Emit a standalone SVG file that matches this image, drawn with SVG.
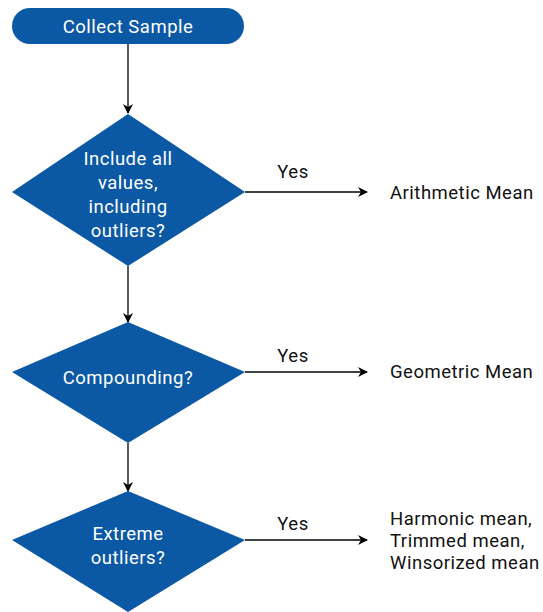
<svg xmlns="http://www.w3.org/2000/svg" width="543" height="612" viewBox="0 0 543 612">
<style>
.node{fill:#0b58a4;}
.nt{fill:#ffffff;font-family:Roboto,"Liberation Sans",sans-serif;font-size:18.5px;letter-spacing:0.5px;text-anchor:middle;}
.lt{fill:#111111;font-family:Roboto,"Liberation Sans",sans-serif;font-size:18.5px;letter-spacing:0.5px;}
.edge{stroke:#000000;stroke-width:1.3;fill:none;marker-end:url(#ah);}
</style>
<defs>
<marker id="ah" viewBox="0 0 10 10" refX="9" refY="5" markerWidth="10" markerHeight="10" markerUnits="userSpaceOnUse" orient="auto">
<path d="M0,0 L10,5 L0,10 L3,5 Z" fill="#000000"/>
</marker>
</defs>
<rect width="543" height="612" fill="#ffffff"/>
<g id="edges">
<line class="edge" x1="128" y1="44" x2="128" y2="113"/>
<line class="edge" x1="128" y1="266" x2="128" y2="322"/>
<line class="edge" x1="128" y1="443" x2="128" y2="491"/>
<line class="edge" x1="245" y1="192" x2="367" y2="192"/>
<line class="edge" x1="245" y1="372" x2="367" y2="372"/>
<line class="edge" x1="245" y1="540" x2="367" y2="540"/>
<text class="lt" x="293" y="178" text-anchor="middle">Yes</text>
<text class="lt" x="293" y="362" text-anchor="middle">Yes</text>
<text class="lt" x="293" y="530" text-anchor="middle">Yes</text>
</g>
<g id="start">
<rect class="node" x="12" y="8" width="232" height="36" rx="18"/>
<text class="nt" x="128" y="33">Collect Sample</text>
</g>
<g id="q1">
<polygon class="node" points="128,114 245,192 128,266 12,192"/>
<text class="nt" x="128" y="165">Include all</text>
<text class="nt" x="128" y="189">values,</text>
<text class="nt" x="128" y="213">including</text>
<text class="nt" x="128" y="237">outliers?</text>
</g>
<g id="q2">
<polygon class="node" points="128,322 245,372 128,443 12,372"/>
<text class="nt" x="128" y="384">Compounding?</text>
</g>
<g id="q3">
<polygon class="node" points="128,491 245,540 128,612 12,540"/>
<text class="nt" x="128" y="540">Extreme</text>
<text class="nt" x="128" y="564">outliers?</text>
</g>
<g id="r1">
<text class="lt" x="390" y="199">Arithmetic Mean</text>
</g>
<g id="r2">
<text class="lt" x="390" y="378">Geometric Mean</text>
</g>
<g id="r3">
<text class="lt" x="390" y="525">Harmonic mean,</text>
<text class="lt" x="390" y="547">Trimmed mean,</text>
<text class="lt" x="390" y="569">Winsorized mean</text>
</g>
</svg>
